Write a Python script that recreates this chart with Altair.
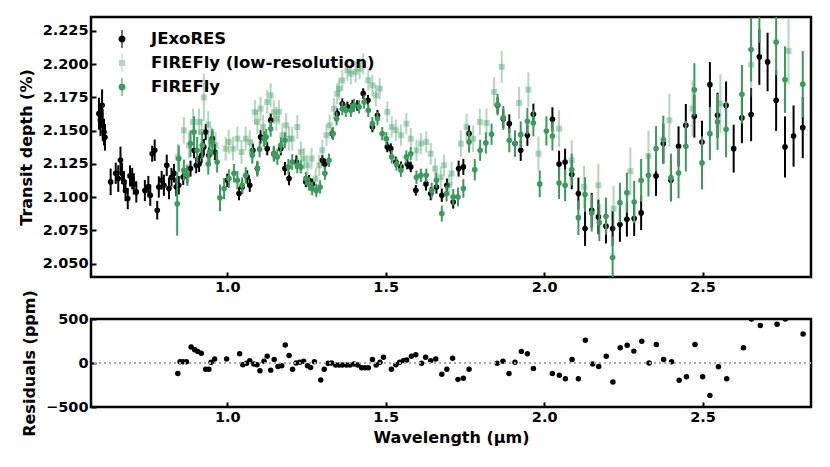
import altair as alt
import pandas as pd

# ---------------- data ----------------
jx_lam = [0.595, 0.600, 0.605, 0.607, 0.611, 0.614, 0.632, 0.648, 0.656, 0.663, 0.668, 0.674, 0.679, 0.686,
          0.693, 0.700, 0.705, 0.713, 0.740, 0.751, 0.757, 0.763, 0.771, 0.779, 0.784, 0.793, 0.800, 0.809,
          0.816, 0.824, 0.832, 0.839, 0.847, 0.861, 0.874, 0.884, 0.895, 0.902, 0.911, 0.919, 0.926, 0.932,
          0.942, 0.953, 0.961, 1.000, 1.037, 1.047, 1.063, 1.071, 1.081, 1.095, 1.105, 1.126, 1.137, 1.147,
          1.169, 1.182, 1.195, 1.218, 1.248, 1.258, 1.268, 1.300, 1.308, 1.332, 1.347, 1.363, 1.379, 1.395,
          1.410, 1.429, 1.444, 1.458, 1.474, 1.505, 1.516, 1.532, 1.548, 1.568, 1.579, 1.595, 1.627, 1.642,
          1.660, 1.677, 1.693, 1.713, 1.730, 1.745, 1.763, 1.853, 1.871, 1.890, 1.908, 1.926, 1.947, 1.966,
          2.026, 2.047, 2.066, 2.087, 2.108, 2.129, 2.150, 2.171, 2.195, 2.216, 2.239, 2.261, 2.284, 2.306,
          2.353, 2.376, 2.400, 2.424, 2.447, 2.474, 2.498, 2.523, 2.547, 2.574, 2.598, 2.624, 2.653, 2.679,
          2.705, 2.732, 2.760, 2.787, 2.816]
jx_val = [2.1628, 2.1579, 2.1691, 2.1541, 2.1490, 2.1450, 2.1115, 2.1180, 2.1140, 2.1280, 2.1180, 2.1115,
          2.1050, 2.0990, 2.1160, 2.1140, 2.1100, 2.1040, 2.1050, 2.1080, 2.1015, 2.1327, 2.1353, 2.0902,
          2.1077, 2.1127, 2.1090, 2.1240, 2.1065, 2.1150, 2.1180, 2.1077, 2.1090, 2.1152, 2.1165, 2.1215,
          2.1353, 2.1240, 2.1250, 2.1315, 2.1378, 2.1490, 2.1315, 2.1440, 2.1340, 2.1127, 2.1027, 2.1077,
          2.1152, 2.1090, 2.1353, 2.1215, 2.1453, 2.1365, 2.1579, 2.1327, 2.1365, 2.1215, 2.1140, 2.1265,
          2.1115, 2.1127, 2.1100, 2.1278, 2.1250, 2.1478, 2.1628, 2.1703, 2.1679, 2.1691, 2.1690, 2.1779,
          2.1729, 2.1528, 2.1616, 2.1378, 2.1365, 2.1265, 2.1228, 2.1250, 2.1228, 2.1052, 2.1100, 2.1027,
          2.1077, 2.1015, 2.1090, 2.0964, 2.1215, 2.1228, 2.1478, 2.1691, 2.1590, 2.1553, 2.1403, 2.1353,
          2.1466, 2.1624, 2.1586, 2.1250, 2.1265, 2.1170, 2.1027, 2.0764, 2.0902, 2.0852, 2.0782, 2.0764,
          2.0794, 2.0834, 2.0839, 2.0882, 2.1160, 2.1403, 2.1127, 2.1383, 2.1541, 2.1608, 2.1415, 2.1846,
          2.1616, 2.1690, 2.1365, 2.1596, 2.1621, 2.2055, 2.2017, 2.1729, 2.1378, 2.1460, 2.1523]
jx_err = [0.012, 0.012, 0.012, 0.012, 0.010, 0.010, 0.010, 0.008, 0.010, 0.010, 0.008, 0.008, 0.008, 0.008,
          0.008, 0.008, 0.008, 0.008, 0.008, 0.008, 0.008, 0.006, 0.008, 0.007, 0.008, 0.007, 0.008, 0.008,
          0.008, 0.007, 0.007, 0.007, 0.007, 0.006, 0.006, 0.006, 0.006, 0.006, 0.006, 0.006, 0.006, 0.006,
          0.006, 0.006, 0.006, 0.005, 0.005, 0.005, 0.005, 0.005, 0.005, 0.005, 0.005, 0.005, 0.005, 0.005,
          0.005, 0.005, 0.005, 0.005, 0.004, 0.004, 0.004, 0.004, 0.004, 0.004, 0.004, 0.004, 0.004, 0.004,
          0.004, 0.004, 0.004, 0.004, 0.004, 0.004, 0.004, 0.004, 0.004, 0.004, 0.004, 0.004, 0.005, 0.005,
          0.005, 0.005, 0.005, 0.005, 0.006, 0.006, 0.006, 0.006, 0.007, 0.007, 0.008, 0.008, 0.008, 0.008,
          0.009, 0.010, 0.010, 0.011, 0.012, 0.013, 0.013, 0.013, 0.013, 0.013, 0.013, 0.013, 0.013, 0.013,
          0.015, 0.015, 0.015, 0.015, 0.016, 0.016, 0.016, 0.017, 0.017, 0.018, 0.018, 0.019, 0.020, 0.021,
          0.022, 0.023, 0.023, 0.023, 0.023]

lr_lam = [0.844, 0.863, 0.879, 0.892, 0.911, 0.919, 0.926, 0.940, 0.948, 0.963, 0.995, 1.005, 1.018, 1.032,
          1.045, 1.058, 1.071, 1.079, 1.087, 1.095, 1.105, 1.113, 1.126, 1.137, 1.147, 1.155, 1.163, 1.174,
          1.186, 1.195, 1.205, 1.221, 1.232, 1.242, 1.253, 1.266, 1.279, 1.290, 1.300, 1.313, 1.323, 1.337,
          1.347, 1.353, 1.363, 1.379, 1.390, 1.405, 1.418, 1.429, 1.445, 1.458, 1.469, 1.481, 1.505, 1.519,
          1.532, 1.548, 1.565, 1.579, 1.597, 1.611, 1.628, 1.642, 1.656, 1.674, 1.684, 1.700, 1.708, 1.737,
          1.755, 1.776, 1.797, 1.818, 1.842, 1.866, 1.921, 1.950, 1.982, 2.047, 2.087, 2.126, 2.171, 2.219,
          2.272, 2.329, 2.395, 2.468, 2.556, 2.653, 2.771]
lr_val = [2.1300, 2.1503, 2.1390, 2.1566, 2.1566, 2.1490, 2.1750, 2.1546, 2.1428, 2.1390, 2.1365, 2.1415,
          2.1365, 2.1440, 2.1340, 2.1440, 2.1415, 2.1340, 2.1640, 2.1566, 2.1666, 2.1528, 2.1716, 2.1766,
          2.1640, 2.1590, 2.1640, 2.1466, 2.1541, 2.1440, 2.1440, 2.1528, 2.1340, 2.1290, 2.1240, 2.1290,
          2.1140, 2.1240, 2.1353, 2.1466, 2.1541, 2.1666, 2.1779, 2.1816, 2.1879, 2.1954, 2.1929, 2.1942,
          2.1967, 2.2004, 2.1879, 2.1841, 2.1766, 2.1816, 2.1641, 2.1528, 2.1503, 2.1466, 2.1553, 2.1440,
          2.1353, 2.1403, 2.1415, 2.1327, 2.1215, 2.1150, 2.1240, 2.1090, 2.1178, 2.1403, 2.1528, 2.1440,
          2.1566, 2.1558, 2.1791, 2.1980, 2.1709, 2.1809, 2.1327, 2.1515, 2.1278, 2.1077, 2.1090, 2.0914,
          2.1195, 2.1310, 2.1578, 2.1666, 2.1704, 2.1997, 2.2100]
lr_err = [0.010, 0.010, 0.010, 0.010, 0.010, 0.010, 0.018, 0.010, 0.010, 0.010, 0.009, 0.009, 0.009, 0.009,
          0.009, 0.009, 0.009, 0.009, 0.009, 0.009, 0.009, 0.009, 0.009, 0.009, 0.009, 0.009, 0.009, 0.009,
          0.009, 0.009, 0.009, 0.009, 0.008, 0.008, 0.008, 0.008, 0.008, 0.008, 0.008, 0.008, 0.008, 0.008,
          0.008, 0.008, 0.008, 0.008, 0.008, 0.008, 0.008, 0.008, 0.008, 0.008, 0.008, 0.008, 0.008, 0.008,
          0.008, 0.008, 0.008, 0.008, 0.008, 0.008, 0.008, 0.008, 0.008, 0.008, 0.008, 0.008, 0.009, 0.010,
          0.010, 0.010, 0.010, 0.011, 0.011, 0.012, 0.012, 0.013, 0.013, 0.014, 0.015, 0.016, 0.016, 0.017,
          0.018, 0.019, 0.020, 0.021, 0.022, 0.024, 0.025]

ff_lam = [0.842, 0.847, 0.863, 0.874, 0.884, 0.895, 0.905, 0.921, 0.940, 0.944, 0.953, 0.968, 0.977, 0.990,
          1.005, 1.021, 1.032, 1.047, 1.058, 1.079, 1.095, 1.102, 1.116, 1.123, 1.137, 1.147, 1.158, 1.169,
          1.182, 1.193, 1.205, 1.221, 1.232, 1.248, 1.258, 1.268, 1.281, 1.293, 1.308, 1.321, 1.334, 1.345,
          1.363, 1.374, 1.390, 1.400, 1.416, 1.432, 1.445, 1.458, 1.474, 1.489, 1.502, 1.519, 1.534, 1.548,
          1.565, 1.579, 1.597, 1.611, 1.628, 1.645, 1.660, 1.677, 1.692, 1.713, 1.728, 1.745, 1.763, 1.781,
          1.798, 1.816, 1.834, 1.853, 1.871, 1.890, 1.908, 1.926, 1.947, 1.966, 1.986, 2.007, 2.026, 2.047,
          2.066, 2.087, 2.108, 2.129, 2.150, 2.174, 2.195, 2.216, 2.239, 2.261, 2.284, 2.306, 2.329, 2.353,
          2.376, 2.400, 2.424, 2.447, 2.474, 2.498, 2.523, 2.547, 2.574, 2.624, 2.653, 2.679, 2.732, 2.760,
          2.816]
ff_val = [2.0951, 2.1290, 2.1203, 2.1165, 2.1403, 2.1490, 2.1353, 2.1390, 2.1250, 2.1340, 2.1415, 2.1265,
          2.0995, 2.1065, 2.1140, 2.1180, 2.1127, 2.1090, 2.1165, 2.1315, 2.1215, 2.1360, 2.1440, 2.1453,
          2.1515, 2.1327, 2.1303, 2.1390, 2.1428, 2.1228, 2.1265, 2.1240, 2.1228, 2.1140, 2.1100, 2.1065,
          2.1050, 2.1077, 2.1180, 2.1278, 2.1478, 2.1590, 2.1666, 2.1653, 2.1653, 2.1690, 2.1679, 2.1716,
          2.1653, 2.1553, 2.1590, 2.1478, 2.1440, 2.1303, 2.1250, 2.1203, 2.1303, 2.1327, 2.1150, 2.1165,
          2.1165, 2.1050, 2.1127, 2.0877, 2.1027, 2.1002, 2.1002, 2.1065, 2.1415, 2.1207, 2.1353, 2.1408,
          2.1473, 2.1696, 2.1596, 2.1428, 2.1403, 2.1470, 2.1571, 2.1558, 2.1100, 2.1498, 2.1460, 2.1107,
          2.1090, 2.1207, 2.0846, 2.1020, 2.0882, 2.0809, 2.0857, 2.0546, 2.0959, 2.1034, 2.0964, 2.1127,
          2.1165, 2.1365, 2.1433, 2.1147, 2.1182, 2.1383, 2.1808, 2.1258, 2.1478, 2.1566, 2.1511, 2.1774,
          2.2110, 2.2400, 2.2167, 2.1884, 2.1850]
ff_err = [0.024, 0.010, 0.008, 0.008, 0.010, 0.012, 0.010, 0.010, 0.008, 0.010, 0.010, 0.008, 0.010, 0.008,
          0.007, 0.007, 0.007, 0.006, 0.006, 0.006, 0.006, 0.006, 0.006, 0.006, 0.006, 0.006, 0.006, 0.006,
          0.006, 0.006, 0.006, 0.006, 0.005, 0.005, 0.005, 0.005, 0.005, 0.005, 0.005, 0.005, 0.005, 0.005,
          0.005, 0.005, 0.005, 0.005, 0.005, 0.005, 0.005, 0.005, 0.005, 0.005, 0.005, 0.005, 0.005, 0.005,
          0.005, 0.005, 0.005, 0.005, 0.005, 0.006, 0.006, 0.006, 0.006, 0.006, 0.007, 0.007, 0.008, 0.008,
          0.008, 0.008, 0.008, 0.008, 0.009, 0.009, 0.010, 0.010, 0.010, 0.010, 0.010, 0.011, 0.011, 0.012,
          0.012, 0.012, 0.013, 0.013, 0.014, 0.014, 0.014, 0.016, 0.015, 0.015, 0.016, 0.016, 0.016, 0.017,
          0.018, 0.018, 0.019, 0.019, 0.020, 0.020, 0.020, 0.021, 0.021, 0.022, 0.024, 0.024, 0.025, 0.025,
          0.025]

res_lam = [0.844, 0.851, 0.860, 0.871, 0.886, 0.897, 0.907, 0.918, 0.932, 0.942, 0.949, 0.960, 0.998, 1.039,
           1.049, 1.061, 1.071, 1.084, 1.094, 1.103, 1.116, 1.126, 1.137, 1.148, 1.160, 1.172, 1.183, 1.195,
           1.206, 1.217, 1.229, 1.241, 1.253, 1.263, 1.275, 1.295, 1.306, 1.318, 1.329, 1.342, 1.353, 1.363,
           1.376, 1.387, 1.400, 1.412, 1.424, 1.435, 1.445, 1.458, 1.470, 1.482, 1.493, 1.518, 1.532, 1.544,
           1.556, 1.566, 1.581, 1.595, 1.613, 1.626, 1.642, 1.658, 1.677, 1.693, 1.711, 1.728, 1.745, 1.763,
           1.852, 1.870, 1.889, 1.908, 1.928, 1.947, 1.966, 2.026, 2.048, 2.067, 2.088, 2.108, 2.130, 2.153,
           2.172, 2.196, 2.217, 2.240, 2.262, 2.283, 2.308, 2.331, 2.354, 2.377, 2.402, 2.426, 2.449, 2.476,
           2.500, 2.523, 2.550, 2.576, 2.629, 2.654, 2.682, 2.735, 2.761, 2.817]
res_ppm = [-120, 15, 15, 15, 182, 151, 132, 112, -70, -70, 8, 46, 46, 104,
           -19, -4, 27, -12, -19, -89, 19, 77, -81, 39, -39, -31, 205, 85,
           -70, 0, 8, 19, -31, -50, 15, -194, -70, -4, 0, -23, -23, -23,
           -23, -23, -12, -23, -54, -54, -54, 39, -23, 8, 66, -70, -19, 8,
           27, 35, 77, 93, -4, 66, 27, 46, -128, -70, 54, -186, -174, -70,
           -4, 19, -120, 8, 132, 104, -62, -120, -139, -178, 39, -178, 259, -12,
           -39, 77, -217, 174, 201, 135, 248, 0, 209, 39, 15, -197, -155, 209,
           -155, -368, -43, -178, 174, 499, 426, 441, 499, 329]

SERIES = ["JExoRES", "FIREFly (low-resolution)", "FIREFly"]
x_ticks = [1.0, 1.5, 2.0, 2.5]
y_ticks = [2.050, 2.075, 2.100, 2.125, 2.150, 2.175, 2.200, 2.225]
res_ticks = [-500, 0, 500]

GREEN = "#3b9a5c"
LIGHT_GREEN = "#b1d7be"


def frame(lam, val, err, name):
    d = pd.DataFrame({"lam": lam, "val": val, "err": err})
    d["lo"] = d["val"] - d["err"]
    d["hi"] = d["val"] + d["err"]
    d["series"] = name
    return d


jx = frame(jx_lam, jx_val, jx_err, SERIES[0])
lr = frame(lr_lam, lr_val, lr_err, SERIES[1])
ff = frame(ff_lam, ff_val, ff_err, SERIES[2])
allp = pd.concat([jx, lr, ff], ignore_index=True)
res = pd.DataFrame({"lam": res_lam, "ppm": res_ppm})

FONT = "DejaVu Sans"
xscale = alt.Scale(domain=[0.57, 2.842], nice=False, zero=False)
yscale = alt.Scale(domain=[2.040, 2.2355], nice=False, zero=False)
rscale = alt.Scale(domain=[-500, 500], nice=False, zero=False)

# legend symbols: marker with a vertical error bar
circ = ("M-0.06,-1L0.06,-1L0.06,-0.3L-0.06,-0.3Z"
        "M-0.06,0.3L0.06,0.3L0.06,1L-0.06,1Z"
        "M-0.39,0A0.39,0.39,0,1,1,0.39,0A0.39,0.39,0,1,1,-0.39,0Z")
sq = ("M-0.06,-1L0.06,-1L0.06,-0.3L-0.06,-0.3Z"
      "M-0.06,0.3L0.06,0.3L0.06,1L-0.06,1Z"
      "M-0.33,-0.33L0.33,-0.33L0.33,0.33L-0.33,0.33Z")


def mk_legend():
    return alt.Legend(
        title=None, orient="none", legendX=22, legendY=13, padding=0,
        labelFont=FONT, labelFontWeight="bold", labelFontSize=16.5, labelColor="black",
        labelLimit=0, symbolSize=324, symbolStrokeWidth=0, symbolOpacity=1,
        rowPadding=6, labelOffset=20,
    )


x_axis_top = alt.Axis(values=x_ticks, format=".1f", title=None, offset=-5, domain=False,
                      tickSize=5, labelPadding=3, grid=False)
y_axis_top = alt.Axis(values=y_ticks, format=".3f", title="Transit depth (%)", offset=-5,
                      domain=False, tickSize=5, labelPadding=3, grid=False, titlePadding=8)

layers = []
for d, shape, size, op in [(jx, "circle", 32, 1.0), (lr, "square", 36, 0.4), (ff, "circle", 32, 1.0)]:
    col = "#000000" if d["series"].iloc[0] == SERIES[0] else GREEN
    bars = alt.Chart(d).mark_rule(strokeWidth=2, opacity=op, clip=True).encode(
        x=alt.X("lam:Q", scale=xscale, axis=x_axis_top),
        y=alt.Y("lo:Q", scale=yscale, axis=y_axis_top),
        y2="hi:Q",
        color=alt.value(col),
    )
    pts = alt.Chart(d).mark_point(shape=shape, filled=True, size=size, opacity=op, clip=True).encode(
        x=alt.X("lam:Q", scale=xscale, axis=x_axis_top),
        y=alt.Y("val:Q", scale=yscale, axis=y_axis_top),
        color=alt.value(col),
    )
    layers += [bars, pts]

# legend-only layer (all rows filtered out, legend comes from explicit scale domains)
leg = alt.Chart(allp).transform_filter("datum.lam < 0").mark_point(
    filled=True, strokeWidth=0, opacity=1
).encode(
    x=alt.X("lam:Q", scale=xscale, axis=x_axis_top),
    y=alt.Y("val:Q", scale=yscale, axis=y_axis_top),
    color=alt.Color("series:N", scale=alt.Scale(domain=SERIES, range=["#000000", LIGHT_GREEN, GREEN]),
                    legend=mk_legend()),
    shape=alt.Shape("series:N", scale=alt.Scale(domain=SERIES, range=[circ, sq, circ]),
                    legend=mk_legend()),
)
layers.append(leg)

top = alt.layer(*layers).properties(width=720, height=260)

zero = alt.Chart(res).mark_rule(color="#aaaaaa", strokeDash=[2, 3], strokeWidth=1.5).encode(
    y=alt.datum(0)
)
rpts = alt.Chart(res).mark_circle(size=30, color="black", opacity=1, clip=True).encode(
    x=alt.X("lam:Q", scale=xscale,
            axis=alt.Axis(values=x_ticks, format=".1f", title="Wavelength (μm)", offset=-5,
                          domain=False, tickSize=5, labelPadding=3, grid=False, titlePadding=6)),
    y=alt.Y("ppm:Q", scale=rscale,
            axis=alt.Axis(values=res_ticks, format="d", title="Residuals (ppm)", offset=-5,
                          domain=False, tickSize=5, labelPadding=3, grid=False, titlePadding=8)),
)
bottom = alt.layer(rpts, zero).properties(width=720, height=88)

chart = alt.vconcat(top, bottom, spacing=42, bounds="flush").properties(
    padding={"left": 8, "top": 7, "right": 5, "bottom": 5}
).configure_view(stroke="black", strokeWidth=2.5).configure_axis(
    labelFont=FONT, labelFontWeight="bold", labelFontSize=14.5, labelColor="black",
    titleFont=FONT, titleFontWeight="bold", titleFontSize=16, titleColor="black",
    tickColor="black", tickWidth=2, labelFlush=False,
)

chart.save("out.html", embed_options={"renderer": "svg", "actions": False})
